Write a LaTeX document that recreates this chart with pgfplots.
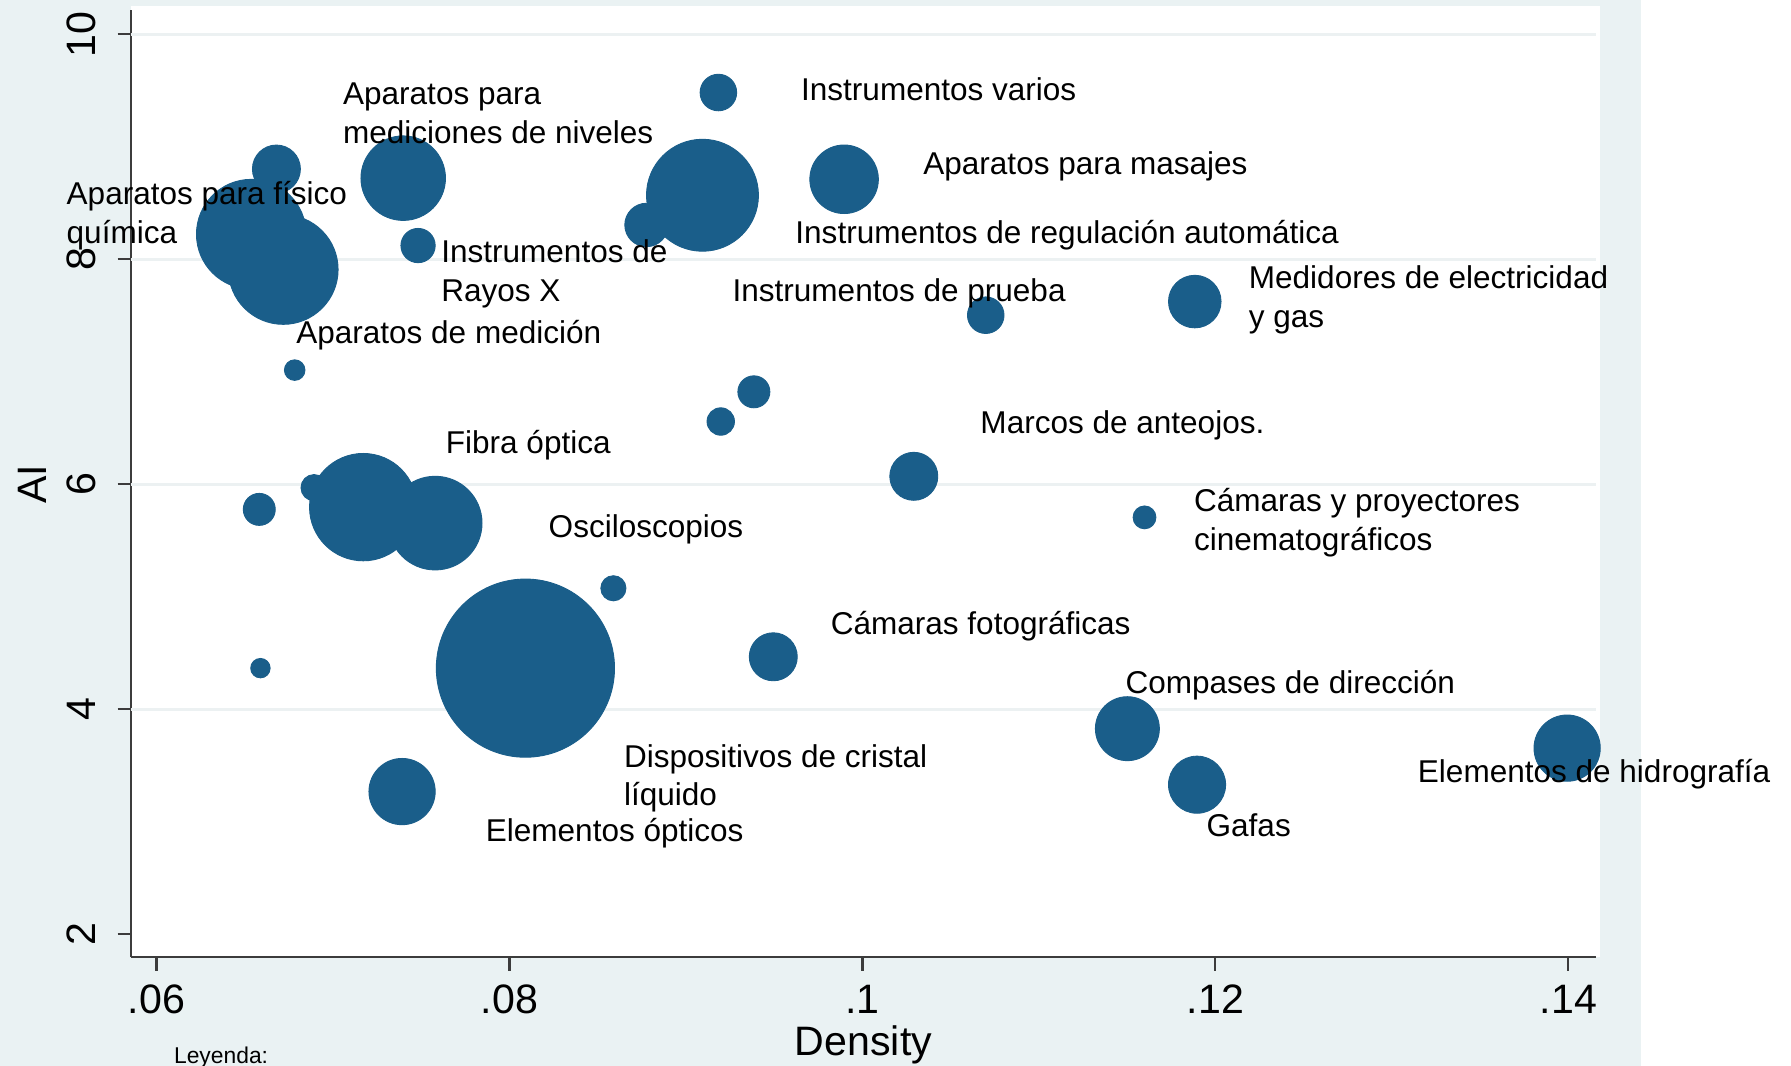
\documentclass[border=0pt]{standalone}
\usepackage{pgfplots}
\pgfplotsset{compat=1.18}
\usepackage{fontspec}
\usepackage{graphicx}
\setmainfont{Liberation Sans}
\definecolor{bub}{RGB}{26,94,138}
\definecolor{bgc}{RGB}{234,242,243}
\definecolor{gridc}{RGB}{236,241,242}
\definecolor{axc}{RGB}{60,60,60}
\pgfplotstableread{
x y r
0.09184 9.482 16
0.066796 8.802 21
0.073981 8.721 37
0.090939 8.569 49
0.087767 8.305 19
0.098964 8.711 30
0.074822 8.122 15
0.065372 8.223 48
0.067184 7.909 48
0.067832 7.015 9
0.10699 7.503 16
0.118835 7.624 23
0.093851 6.822 14
0.091974 6.558 12
0.102913 6.071 21
0.115987 5.706 10
0.065825 5.777 14
0.068932 5.970 11.5
0.071715 5.797 47
0.075793 5.655 41
0.08589 5.076 11
0.080906 4.366 78
0.094951 4.467 21
0.06589 4.366 8.5
0.073916 3.269 29
0.115016 3.828 28
0.118964 3.330 25
0.139935 3.655 29
}\bubbles
\newcommand{\lbl}[3]{\node[anchor=west,inner sep=0pt,align=left,font=\fontsize{13.8}{17}\selectfont] at ({#1*0.5pt},{(933-#2-2.5)*0.5pt}) {#3};}
\newcommand{\rt}[1]{\rotatebox{90}{#1}}
\begin{document}
\begin{tikzpicture}
\useasboundingbox (0,0) rectangle (784pt,466.5pt);
\fill[bgc] (0,0) rectangle (718.5pt,466.5pt);
\fill[white] (57.5pt,47.5pt) rectangle (700.5pt,464pt);
\begin{axis}[
  at={(57.5pt,47.5pt)}, anchor=south west,
  scale only axis, width=641pt, height=414.5pt,
  xmin=0.058576, xmax=0.141553, ymin=1.797, ymax=10.213,
  axis x line*=bottom, axis y line*=left,
  axis line style={axc, line width=1pt, -},
  tick align=outside, major tick length=6pt,
  every tick/.style={axc, line width=1pt},
  xtick={0.06,0.08,0.1,0.12,0.14}, xticklabels={.06,.08,.1,.12,.14},
  ytick={2,4,6,8,10}, yticklabels={\rt{2},\rt{4},\rt{6},\rt{8},\rt{10}},
  extra y ticks={4,6,8,10}, extra y tick labels={},
  extra y tick style={ymajorgrids=true, major tick length=0pt},
  major grid style={gridc, line width=1.3pt},
  /pgf/number format/assume math mode=true,
  xticklabel style={font=\fontsize{18}{18}\selectfont, anchor=north, inner sep=0pt, yshift=-6pt},
  yticklabel style={font=\fontsize{18}{18}\selectfont, anchor=east, inner sep=0pt, xshift=-9.5pt},
  xlabel={Density}, ylabel={AI},
  xlabel style={font=\fontsize{18}{18}\selectfont, at={(axis description cs:0.5,-0.0929)}, anchor=center},
  ylabel style={font=\fontsize{18}{18}\selectfont, at={(axis description cs:-0.0679,0.4994)}, anchor=center},
  clip=false,
]
\addplot[scatter, only marks, mark=*, draw=none, 
  scatter/use mapped color={draw=bub, fill=bub},
  visualization depends on={\thisrow{r} \as \rad},
  scatter/@pre marker code/.append style={/tikz/mark size=0.5*\rad pt}]
  table[x=x, y=y] {\bubbles};
\end{axis}
\lbl{701}{76}{Instrumentos varios}
\lbl{300}{96.5}{Aparatos para\\mediciones de niveles}
\lbl{808}{143}{Aparatos para masajes}
\lbl{58}{186}{Aparatos para físico\\química}
\lbl{696}{203}{Instrumentos de regulación automática}
\lbl{386}{237}{Instrumentos de\\Rayos X}
\lbl{641}{254}{Instrumentos de prueba}
\lbl{1093}{260}{Medidores de electricidad\\y gas}
\lbl{259}{291}{Aparatos de medición}
\lbl{858}{370}{Marcos de anteojos.}
\lbl{390}{387}{Fibra óptica}
\lbl{1045}{455}{Cámaras y proyectores\\cinematográficos}
\lbl{480}{461}{Osciloscopios}
\lbl{727}{546}{Cámaras fotográficas}
\lbl{985}{597}{Compases de dirección}
\lbl{546}{679}{Dispositivos de cristal\\líquido}
\lbl{1241}{675}{Elementos de hidrografía}
\lbl{425}{727}{Elementos ópticos}
\lbl{1056}{720}{Gafas}
\node[anchor=base west, inner sep=0pt, font=\fontsize{10}{12}\selectfont] at (76pt,0.9pt) {Leyenda:};
\end{tikzpicture}
\end{document}
